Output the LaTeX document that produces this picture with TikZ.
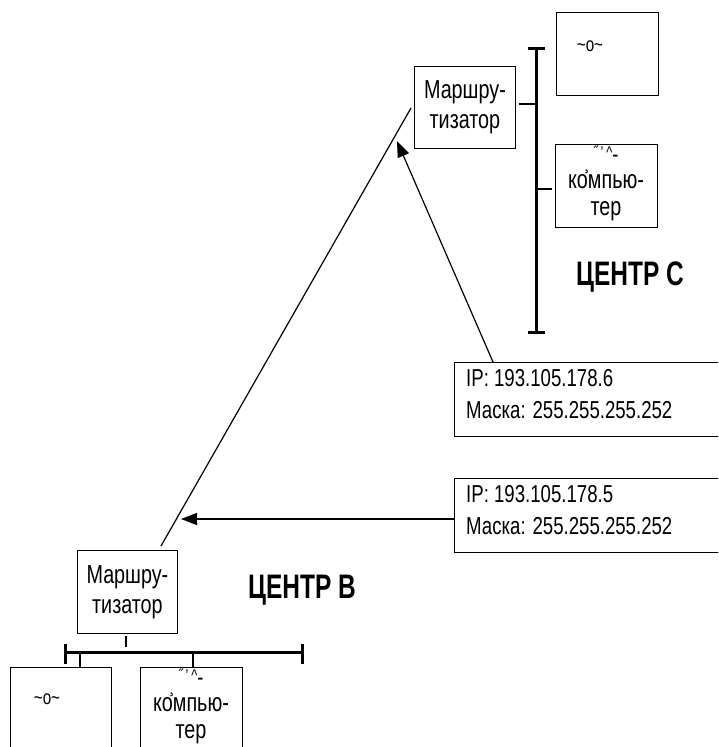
\documentclass[tikz,border=0pt]{standalone}
\usepackage{fontspec}
\setmainfont{Liberation Sans}[FakeStretch=0.76]
\newfontfamily\boldcond{Liberation Sans Bold}[FakeStretch=0.72]
\usetikzlibrary{arrows.meta}
\newcommand{\pctext}{\fontsize{17}{17}\selectfont\llap{\raisebox{-11pt}{\fontsize{20}{20}\selectfont ¸}\hspace{4pt}}˝\,'\,\^{}\raisebox{-4pt}{\fontsize{24}{24}\selectfont -}\\компью-\\тер}
\begin{document}
\begin{tikzpicture}[x=1pt,y=-1pt,
  box/.style={draw,line width=0.9pt,inner sep=0pt,anchor=north west},
  lbl/.style={font=\fontsize{26}{30}\selectfont,align=center,inner sep=0pt},
  iplbl/.style={font=\fontsize{24.5}{32}\selectfont,align=left,inner sep=0pt,anchor=north west},
  small/.style={font=\fontsize{20}{20}\selectfont,inner sep=0pt},
  title/.style={font=\fontsize{34}{36}\boldcond,inner sep=0pt},
  bus/.style={line width=3pt},
  tick/.style={line width=1.8pt},
  wire/.style={line width=1.2pt},
  arr/.style={line width=1.2pt,-{Triangle[length=16pt,width=12pt]}}]
\clip (0,0) rectangle (718,747);
\fill[white] (0,0) rectangle (718,747);

% Centre C
\node[box,minimum width=101pt,minimum height=82pt] (rC) at (414,66) {};
\node[lbl] (rCt) at (rC.center) {Маршру-\\тизатор};
\node[box,minimum width=102pt,minimum height=83pt] (sC) at (556,12) {};
\node[small] (sCt) at (590,46) {\char"7E o\char"7E};
\node[box,minimum width=102pt,minimum height=83pt] (pC) at (555,144) {};
\node[lbl,font=\fontsize{26}{27}\selectfont,anchor=north] (pCt) at (606,146) {\pctext};
\coordinate (bCt) at (536,48);
\coordinate (bCb) at (536,332);
\draw[bus] (bCt) -- (bCb);
\draw[bus] ([xshift=-8pt]bCt) -- ([xshift=9pt]bCt);
\draw[bus] ([xshift=-8pt]bCb) -- ([xshift=9pt]bCb);
\coordinate (jC1) at (536,104);
\coordinate (jC2) at (536,189);
\draw[tick] ([xshift=3pt]rC.east |- jC1) -- (jC1);
\draw[tick] (jC2) -- ([xshift=-3pt]pC.west |- jC2);
\node[title] (tC) at (630,277) {ЦЕНТР С};

% IP boxes
\node[box,minimum width=270pt,minimum height=74pt] (ip6) at (454,362) {};
\node[iplbl] (ip6t) at (466,369) {IP: 193.105.178.6\\Маска: 255.255.255.252};
\node[box,minimum width=270pt,minimum height=74pt] (ip5) at (454,478) {};
\node[iplbl] (ip5t) at (466,485) {IP: 193.105.178.5\\Маска: 255.255.255.252};

% Centre B
\node[box,minimum width=100pt,minimum height=83pt] (rB) at (77,550) {};
\node[lbl] (rBt) at (rB.center) {Маршру-\\тизатор};
\node[box,minimum width=101pt,minimum height=90pt] (sB) at (10,667) {};
\node[small] (sBt) at (47,699) {\char"7E o\char"7E};
\node[box,minimum width=102pt,minimum height=90pt] (pB) at (140,667) {};
\node[lbl,font=\fontsize{26}{27}\selectfont,anchor=north] (pBt) at (191,669) {\pctext};
\coordinate (bBl) at (65,652);
\coordinate (bBr) at (302,652);
\draw[bus] (bBl) -- (bBr);
\draw[bus] ([yshift=-12pt]bBl) -- ([yshift=8pt]bBl);
\draw[bus] ([yshift=-12pt]bBr) -- ([yshift=8pt]bBr);
\draw[tick] (126,636) -- (126,647);
\draw[tick] (80,654) -- (sB.north -| 80,0);
\draw[tick] (193,654) -- (pB.north -| 193,0);
\node[title] (tB) at (302,590) {ЦЕНТР В};

% links
\coordinate (lC) at (411,108);
\coordinate (lB) at (161,546);
\draw[wire] (lC) -- (lB);
\coordinate (a1s) at (493,362);
\coordinate (a1e) at (397,141);
\draw[arr] (a1s) -- (a1e);
\coordinate (a2e) at (181,519);
\draw[arr] (ip5.west |- a2e) -- (a2e);
\end{tikzpicture}
\end{document}
